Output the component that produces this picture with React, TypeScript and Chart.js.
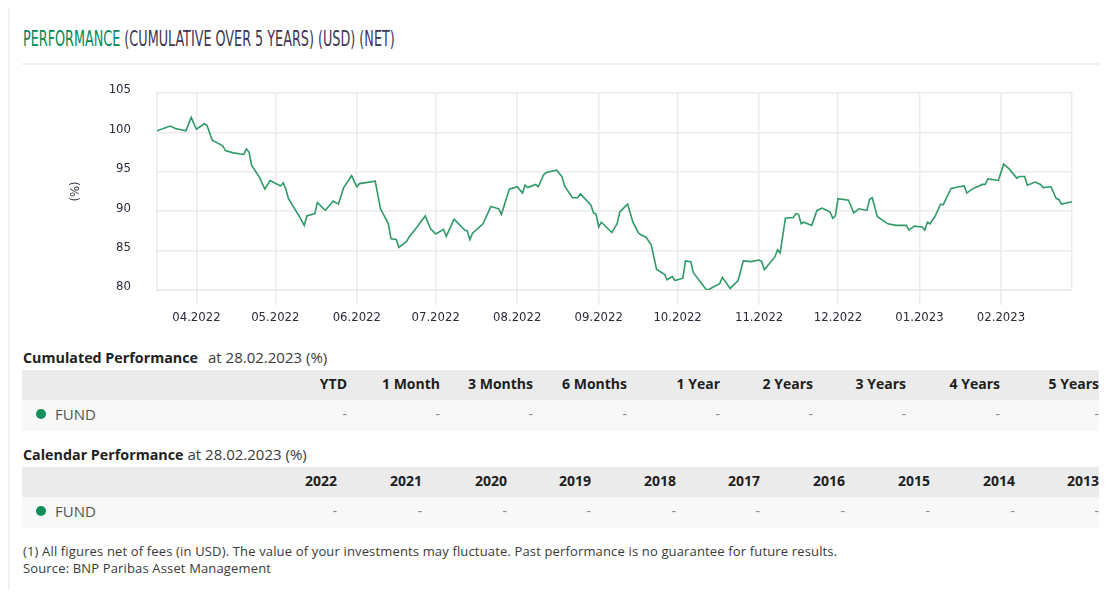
import React, { useEffect, useLayoutEffect, useRef } from "react";
import { Chart, registerables } from "chart.js";

Chart.register(...registerables);

// ---- DATA ----
const dates: string[] = [
  "2022-03-17", "2022-03-22", "2022-03-24", "2022-03-28", "2022-03-30",
  "2022-04-01", "2022-04-04", "2022-04-05", "2022-04-07", "2022-04-11", "2022-04-12", "2022-04-15",
  "2022-04-19", "2022-04-20", "2022-04-21", "2022-04-22", "2022-04-25", "2022-04-27", "2022-04-29",
  "2022-05-03", "2022-05-04", "2022-05-05", "2022-05-06", "2022-05-10", "2022-05-12", "2022-05-13",
  "2022-05-16", "2022-05-17", "2022-05-20", "2022-05-23", "2022-05-25", "2022-05-27", "2022-05-30",
  "2022-06-01", "2022-06-02", "2022-06-08", "2022-06-10", "2022-06-13", "2022-06-14", "2022-06-16",
  "2022-06-17", "2022-06-20", "2022-06-21", "2022-06-23", "2022-06-27", "2022-06-29",
  "2022-07-01", "2022-07-04", "2022-07-05", "2022-07-08", "2022-07-12", "2022-07-13", "2022-07-14",
  "2022-07-15", "2022-07-19", "2022-07-22", "2022-07-25", "2022-07-26", "2022-07-29",
  "2022-08-01", "2022-08-03", "2022-08-04", "2022-08-05", "2022-08-08", "2022-08-09", "2022-08-11",
  "2022-08-12", "2022-08-16", "2022-08-18", "2022-08-19", "2022-08-22", "2022-08-24", "2022-08-25",
  "2022-08-29", "2022-08-30", "2022-08-31",
  "2022-09-01", "2022-09-02", "2022-09-06", "2022-09-08", "2022-09-09", "2022-09-12", "2022-09-14",
  "2022-09-16", "2022-09-17", "2022-09-19", "2022-09-21", "2022-09-23", "2022-09-26", "2022-09-27",
  "2022-09-29", "2022-09-30",
  "2022-10-03", "2022-10-04", "2022-10-06", "2022-10-07", "2022-10-12", "2022-10-13", "2022-10-17",
  "2022-10-18", "2022-10-21", "2022-10-24", "2022-10-26", "2022-10-29",
  "2022-11-01", "2022-11-02", "2022-11-03", "2022-11-05", "2022-11-07", "2022-11-08", "2022-11-09",
  "2022-11-11", "2022-11-14", "2022-11-15", "2022-11-16", "2022-11-17", "2022-11-18", "2022-11-21",
  "2022-11-23", "2022-11-25", "2022-11-28", "2022-11-29", "2022-11-30",
  "2022-12-01", "2022-12-05", "2022-12-07", "2022-12-09", "2022-12-12", "2022-12-13", "2022-12-14",
  "2022-12-16", "2022-12-20", "2022-12-23", "2022-12-27", "2022-12-28", "2022-12-30",
  "2023-01-02", "2023-01-03", "2023-01-04", "2023-01-05", "2023-01-07", "2023-01-09", "2023-01-10",
  "2023-01-13", "2023-01-16", "2023-01-18", "2023-01-19", "2023-01-21", "2023-01-25", "2023-01-26",
  "2023-01-27", "2023-01-31",
  "2023-02-02", "2023-02-04", "2023-02-07", "2023-02-08", "2023-02-10", "2023-02-11", "2023-02-14",
  "2023-02-16", "2023-02-17", "2023-02-20", "2023-02-22", "2023-02-23", "2023-02-24", "2023-02-28",
];

const fundValues: number[] = [
  100.2, 100.8, 100.5, 100.2, 101.9,
  100.4, 101.1, 100.9, 99.0, 98.3, 97.7, 97.4,
  97.2, 97.9, 97.5, 95.8, 94.3, 92.8, 93.9,
  93.2, 93.6, 92.8, 91.6, 89.4, 88.2, 89.4,
  89.7, 91.1, 90.1, 91.3, 90.9, 93.0, 94.5,
  93.1, 93.5, 93.8, 90.3, 88.4, 86.5, 86.4,
  85.4, 86.2, 86.8, 87.6, 89.4, 87.8,
  87.1, 87.7, 86.8, 89.0, 87.6, 87.5, 86.4,
  87.2, 88.4, 90.6, 90.3, 89.6, 92.8,
  93.1, 92.3, 93.3, 93.0, 93.4, 93.1, 94.6,
  94.9, 95.2, 94.4, 93.2, 91.7, 91.7, 92.2,
  90.8, 89.8, 89.6,
  88.0, 88.6, 87.3, 88.4, 89.9, 90.9, 88.6,
  87.3, 87.0, 86.7, 85.7, 82.6, 82.0, 81.3,
  81.7, 81.2,
  81.5, 83.7, 83.6, 82.2, 80.0, 80.1, 80.8,
  81.6, 80.2, 81.2, 83.7, 83.6,
  83.8, 83.6, 82.6, 83.4, 84.2, 85.1, 84.7,
  89.1, 89.2, 89.7, 89.6, 88.4, 88.6, 88.2,
  90.1, 90.4, 89.9, 89.1, 89.4,
  91.6, 91.4, 89.8, 90.3, 90.1, 91.5, 91.7,
  89.3, 88.4, 88.2, 88.2, 87.6, 88.1,
  88.0, 87.6, 88.6, 88.4, 89.4, 90.9, 90.8,
  92.9, 93.1, 93.2, 92.3, 92.8, 93.4, 93.4,
  94.1, 93.9,
  96.0, 95.4, 94.2, 94.4, 94.4, 93.3, 93.7,
  93.4, 93.0, 93.1, 91.6, 91.5, 90.9, 91.2,
];

const monthTicks: string[] = [
  "2022-04-01", "2022-05-01", "2022-06-01", "2022-07-01", "2022-08-01", "2022-09-01",
  "2022-10-01", "2022-11-01", "2022-12-01", "2023-01-01", "2023-02-01",
];
const yMin = 80;
const yMax = 105;
const yStep = 5;

const cumulativeHeaders: string[] = ["YTD", "1 Month", "3 Months", "6 Months", "1 Year", "2 Years", "3 Years", "4 Years", "5 Years"];
const cumulativeValues: string[] = ["-", "-", "-", "-", "-", "-", "-", "-", "-"];
const calendarHeaders: string[] = ["2022", "2021", "2020", "2019", "2018", "2017", "2016", "2015", "2014", "2013"];
const calendarValues: string[] = ["-", "-", "-", "-", "-", "-", "-", "-", "-", "-"];

// ---- helpers ----
const toDay = (s: string) =>
  Date.UTC(+s.slice(0, 4), +s.slice(5, 7) - 1, +s.slice(8, 10)) / 86400000;
const fmtMonth = (day: number) => {
  const d = new Date(day * 86400000);
  const m = String(d.getUTCMonth() + 1).padStart(2, "0");
  return `${m}.${d.getUTCFullYear()}`;
};

const GREEN = "#2e9a68";
const GRID = "#ebebeb";
const NARROW = '"Liberation Sans Narrow", "DejaVu Sans Condensed", "Liberation Sans", sans-serif';
const SANS = '"Open Sans", "Noto Sans", sans-serif';

function PerfChart() {
  const ref = useRef<HTMLCanvasElement | null>(null);
  useEffect(() => {
    if (!ref.current) return;
    const xMin = toDay(dates[0]);
    const xMax = toDay(dates[dates.length - 1]);
    const tickDays = monthTicks.map(toDay);
    const chart = new Chart(ref.current, {
      type: "line",
      data: {
        datasets: [
          {
            label: "FUND",
            data: dates.map((d, i) => ({ x: toDay(d), y: fundValues[i] })),
            borderColor: GREEN,
            borderWidth: 1.6,
            pointRadius: 0,
            tension: 0,
            fill: false,
          },
        ],
      },
      options: {
        animation: false,
        responsive: false,
        devicePixelRatio: 1,
        layout: { padding: { top: 18, right: 35, left: 0, bottom: 0 } },
        plugins: { legend: { display: false }, tooltip: { enabled: false } },
        scales: {
          x: {
            type: "linear",
            min: xMin,
            max: xMax,
            afterBuildTicks: (s: any) => {
              s.ticks = [...tickDays.map((v) => ({ value: v })), { value: xMax }];
            },
            afterFit: (s: any) => {
              s.height = 40;
              s.paddingLeft = 0;
              s.paddingRight = 0;
            },
            ticks: {
              autoSkip: false,
              maxRotation: 0,
              padding: 5,
              color: "#2a2a3a",
              font: { family: NARROW, size: 13 },
              callback: (v: any) => (tickDays.includes(Number(v)) ? fmtMonth(Number(v)) : ""),
            },
            grid: {
              color: GRID,
              lineWidth: 1.5,
              drawTicks: true,
              tickLength: 15,
              tickColor: (ctx: any) => (ctx.tick && ctx.tick.value === xMax ? "rgba(0,0,0,0)" : GRID),
            },
            border: { color: GRID, width: 1.5 },
          },
          y: {
            min: yMin,
            max: yMax,
            afterFit: (s: any) => {
              s.width = 135;
              s.paddingTop = 8;
              s.paddingBottom = 8;
            },
            ticks: {
              stepSize: yStep,
              padding: 26,
              labelOffset: -3,
              color: "#2a2a3a",
              font: { family: NARROW, size: 13 },
            },
            title: {
              display: true,
              text: "(%)",
              color: "#2a2a3a",
              font: { family: NARROW, size: 13 },
              padding: { top: 46, bottom: 0 },
            },
            grid: { color: GRID, lineWidth: 1.5, drawTicks: false },
            border: { color: GRID, width: 1.5 },
          },
        },
      },
    } as any);
    return () => chart.destroy();
  }, []);
  return <canvas ref={ref} width={1085} height={255} style={{ display: "block" }} />;
}

function Title() {
  const ref = useRef<HTMLSpanElement | null>(null);
  useLayoutEffect(() => {
    const el = ref.current;
    if (!el) return;
    el.style.transform = "none";
    const w = el.offsetWidth;
    if (w > 0) el.style.transform = `scaleX(${372 / w})`;
  }, []);
  return (
    <span
      ref={ref}
      style={{
        display: "inline-block",
        whiteSpace: "nowrap",
        transformOrigin: "0 0",
        fontFamily: NARROW,
        fontSize: 22,
        lineHeight: "22px",
      }}
    >
      <span style={{ color: "#00895a" }}>PERFORMANCE</span>
      <span style={{ color: "#3e3452" }}> (CUMULATIVE OVER 5 YEARS) (USD) (NET)</span>
    </span>
  );
}

function PerfTable(props: {
  top: number;
  caption: string;
  gap: number;
  firstWidth: number;
  widths: number[];
  headers: string[];
  values: string[];
}) {
  const { top, caption, gap, firstWidth, widths, headers, values } = props;
  const cols = [firstWidth, ...widths].map((w) => `${w}px`).join(" ");
  const cell: React.CSSProperties = { textAlign: "right", paddingRight: 8, whiteSpace: "nowrap" };
  return (
    <div style={{ position: "absolute", left: 12, top, width: 1085 }}>
      <div style={{ height: 23, lineHeight: "20px", color: "#222", paddingLeft: 1, whiteSpace: "nowrap" }}>
        <span style={{ fontWeight: 700, fontSize: 14.3 }}>{caption}</span>
        <span style={{ marginLeft: gap, color: "#3a3a3a", fontSize: 15 }}>at 28.02.2023 (%)</span>
      </div>
      <div
        style={{
          display: "grid",
          gridTemplateColumns: cols,
          height: 30,
          lineHeight: "27px",
          background: "#ebebeb",
          fontWeight: 700,
          fontSize: 14,
          color: "#1e1e1e",
        }}
      >
        <div />
        {headers.map((h) => (
          <div key={h} style={cell}>
            {h}
          </div>
        ))}
      </div>
      <div
        style={{
          display: "grid",
          gridTemplateColumns: cols,
          height: 31,
          lineHeight: "28px",
          background: "#f8f8f8",
          fontSize: 14,
          color: "#8a8a8a",
        }}
      >
        <div
          style={{
            display: "flex",
            alignItems: "center",
            paddingLeft: 14,
            paddingBottom: 3,
            color: "#555",
            fontSize: 15,
          }}
        >
          <span
            style={{
              display: "inline-block",
              width: 10,
              height: 10,
              borderRadius: "50%",
              background: "#0e8f5c",
              marginRight: 9,
              marginTop: -1,
            }}
          />
          FUND
        </div>
        {values.map((v, i) => (
          <div key={i} style={cell}>
            {v}
          </div>
        ))}
      </div>
    </div>
  );
}

export default function App() {
  return (
    <div
      style={{
        position: "relative",
        width: 1099,
        height: 582,
        borderLeft: "2px solid #f2f2f2",
        boxSizing: "border-box",
        fontFamily: SANS,
        background: "#fff",
      }}
    >
      <div style={{ position: "absolute", left: 13, top: 20 }}>
        <Title />
      </div>
      <div style={{ position: "absolute", left: 12, top: 55, width: 1085, height: 2, background: "#f0f0f0" }} />
      <div style={{ position: "absolute", left: 12, top: 67 }}>
        <PerfChart />
      </div>
      <PerfTable
        top={339}
        caption="Cumulated Performance"
        gap={10}
        firstWidth={240}
        widths={[93, 93, 93, 94, 93, 93, 93, 94, 99]}
        headers={cumulativeHeaders}
        values={cumulativeValues}
      />
      <PerfTable
        top={436}
        caption="Calendar Performance"
        gap={4}
        firstWidth={238}
        widths={[85, 85, 85, 84, 85, 84, 85, 85, 85, 84]}
        headers={calendarHeaders}
        values={calendarValues}
      />
      <div
        style={{
          position: "absolute",
          left: 13,
          top: 535,
          fontSize: 13,
          letterSpacing: 0.15,
          lineHeight: "17px",
          color: "#3a3a3a",
          whiteSpace: "nowrap",
        }}
      >
        <div>
          (1) All figures net of fees (in USD). The value of your investments may fluctuate. Past performance is no guarantee for future results.
        </div>
        <div>Source: BNP Paribas Asset Management</div>
      </div>
    </div>
  );
}
